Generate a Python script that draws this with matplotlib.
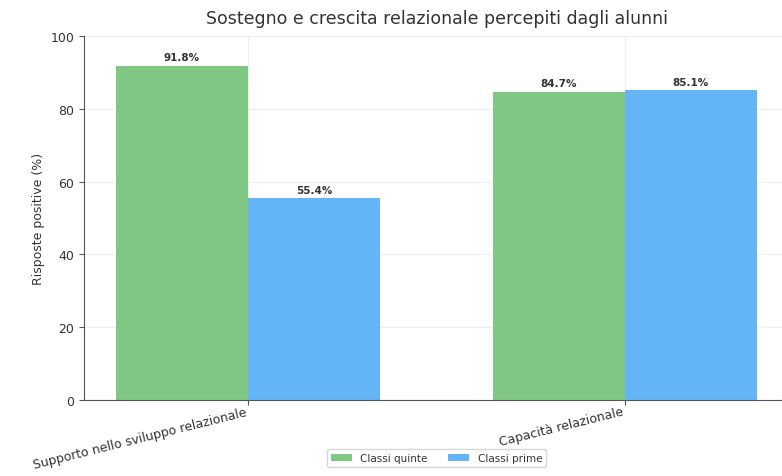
import numpy as np
from matplotlib import pyplot as plt

categories = ["Supporto nello sviluppo relazionale", "Capacità relazionale"]
quinte = [91.8, 84.7]
prime = [55.4, 85.1]
series_names = ["Classi quinte", "Classi prime"]

fig = plt.figure(figsize=(7.82, 4.77), dpi=100)
ax = fig.add_axes([84 / 782, 1 - 401 / 477, (789 - 84) / 782, (401 - 37) / 477])

x = np.arange(len(categories))
w = 0.35
b1 = ax.bar(x - w / 2, quinte, w, color="#81C784", label=series_names[0], zorder=2)
b2 = ax.bar(x + w / 2, prime, w, color="#64B5F6", label=series_names[1], zorder=2)

for bars in (b1, b2):
    for r in bars:
        ax.text(r.get_x() + r.get_width() / 2, r.get_height() + 1, f"{r.get_height():.1f}%",
                ha="center", va="bottom", fontsize=7.5, fontweight="bold", color="#333333")

ax.set_xticks(x)
ax.set_xticklabels(categories, rotation=14, ha="right", fontsize=9.5, color="#333333")
ax.set_ylim(0, 100)
ax.set_xlim(-0.435, 1.435)
ax.set_ylabel("Risposte positive (%)", fontsize=9, color="#333333")
ax.set_title("Sostegno e crescita relazionale percepiti dagli alunni", fontsize=12.5,
             color="#333333", pad=9)
ax.grid(True, color="#eeeeee", linewidth=0.8, zorder=0)
ax.spines["top"].set_visible(False)
ax.spines["right"].set_visible(False)
for s in ("left", "bottom"):
    ax.spines[s].set_color("#555555")
ax.tick_params(labelsize=9, colors="#555555", labelcolor="#333333")
ax.tick_params(axis="x", pad=0)
ax.legend(loc="upper center", bbox_to_anchor=(0.5, -0.12), ncol=2, fontsize=7.5,
          frameon=True, labelcolor="#333333")

fig.savefig("out.png", dpi=100)
